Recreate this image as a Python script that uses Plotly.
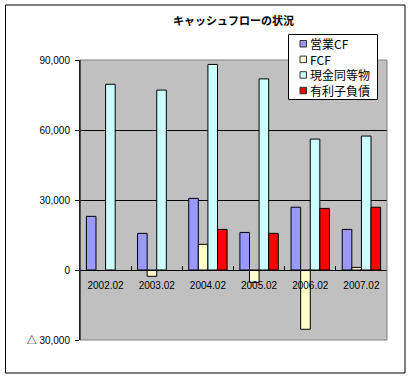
import plotly.graph_objects as go

categories = ["2002.02", "2003.02", "2004.02", "2005.02", "2006.02", "2007.02"]
operating_cf = [23000, 15700, 30700, 16100, 26900, 17400]
fcf = [None, -2700, 11000, -5300, -25400, 1100]
cash = [79600, 77100, 88100, 81900, 56100, 57400]
debt = [None, None, 17400, 15700, 26400, 26900]

series_names = ["営業CF", "FCF", "現金同等物", "有利子負債"]
series_values = [operating_cf, fcf, cash, debt]
series_colors = ["#9999FF", "#FFFFCC", "#CCFFFF", "#FF0000"]

y_tickvals = [-30000, 0, 30000, 60000, 90000]
y_ticktext = ["△ 30,000", "0", "30,000", "60,000", "90,000"]

FONT = "Liberation Sans, Arial, Noto Sans CJK JP, sans-serif"
JFONT = "Noto Sans CJK JP, Liberation Sans, sans-serif"

fig = go.Figure()
for name, vals, col in zip(series_names, series_values, series_colors):
    fig.add_trace(go.Bar(
        x=categories, y=vals, name=name,
        marker=dict(color=col, line=dict(color="black", width=1)),
    ))

W, H = 413, 379
L, R, T, B = 80, 26, 60, 39
pw, ph = W - L - R, H - T - B

def px_x(x):
    return (x - L) / pw

def px_y(y):
    return (H - B - y) / ph

LEG_FS = 12
row_step = LEG_FS * 1.3
row_y0 = 43.5
n = len(series_names)

shapes = [
    dict(type="rect", xref="paper", yref="paper",
         x0=0, x1=1, y0=0, y1=1,
         line=dict(color="#808080", width=1), layer="above"),
    dict(type="line", xref="paper", yref="paper",
         x0=0, x1=0, y0=0, y1=1,
         line=dict(color="black", width=1), layer="above"),
    dict(type="rect", xref="paper", yref="paper",
         x0=px_x(5.5), x1=px_x(405), y0=px_y(373), y1=px_y(5),
         line=dict(color="black", width=1), layer="above"),
    # legend box
    dict(type="rect", xref="paper", yref="paper",
         x0=px_x(288.5), x1=px_x(377.5), y0=px_y(99.5), y1=px_y(34.5),
         line=dict(color="black", width=1), fillcolor="white", layer="above"),
]
for i, col in enumerate(series_colors):
    cy = row_y0 + i * row_step
    shapes.append(dict(
        type="rect", xref="paper", yref="paper",
        x0=px_x(300), x1=px_x(306.5), y0=px_y(cy + 3.5), y1=px_y(cy - 3),
        line=dict(color="#333333", width=1), fillcolor=col, layer="above"))

legend_center = row_y0 + (n - 1) * row_step / 2
annotations = [dict(
    text="<br>".join(series_names), xref="paper", yref="paper",
    x=px_x(309), y=px_y(legend_center), xanchor="left", yanchor="middle",
    align="left", showarrow=False, borderpad=0,
    font=dict(family=JFONT, size=LEG_FS, color="black"))]

fig.update_layout(
    width=W, height=H,
    margin=dict(l=L, r=R, t=T, b=B, pad=0),
    paper_bgcolor="white",
    plot_bgcolor="#C0C0C0",
    barmode="group",
    bargap=0.25,
    bargroupgap=0,
    font=dict(family=FONT, size=10, color="black"),
    title=dict(
        text="<b>キャッシュフローの状況</b>",
        font=dict(family=JFONT, size=11, color="black"),
        x=0.5, xref="paper", xanchor="center",
        y=(H - 21) / H, yanchor="middle",
    ),
    showlegend=False,
    xaxis=dict(
        type="category",
        range=[-0.5, 5.5],
        anchor="free", position=0.25,
        showline=True, linecolor="black", linewidth=1,
        ticks="inside", ticklen=4, tickcolor="black",
        tickson="boundaries",
        ticklabelstandoff=6,
        showgrid=False, zeroline=False,
        tickfont=dict(family=FONT, size=10, color="black"),
    ),
    yaxis=dict(
        range=[-30000, 90000],
        tickvals=y_tickvals, ticktext=y_ticktext,
        showline=True, linecolor="black", linewidth=1,
        ticks="outside", ticklen=4, tickcolor="black",
        ticklabelstandoff=3,
        showgrid=True, gridcolor="black", gridwidth=1,
        zeroline=False,
        tickfont=dict(family=FONT, size=10, color="black"),
    ),
    shapes=shapes,
    annotations=annotations,
)

fig.write_html(
    "out.html",
    config={"displayModeBar": False},
    post_script="document.body.style.margin='0';document.body.style.overflow='hidden';",
)
